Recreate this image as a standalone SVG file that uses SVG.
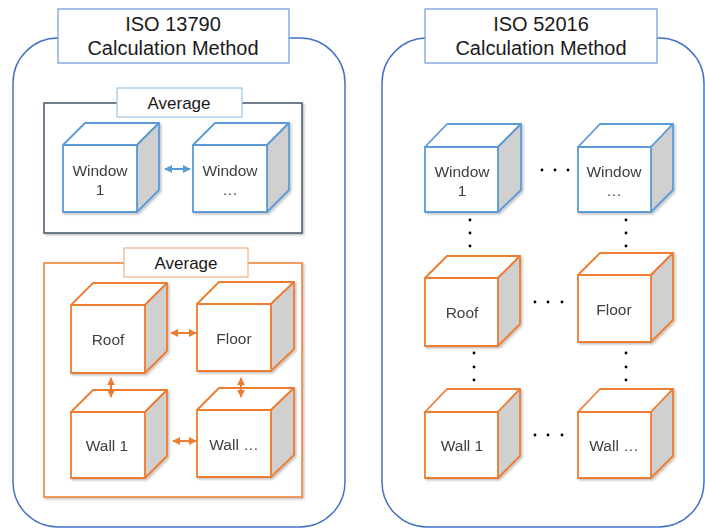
<svg xmlns="http://www.w3.org/2000/svg" width="705" height="529" viewBox="0 0 705 529">
<style>
text{font-family:"Liberation Sans",Arial,sans-serif;fill:#404040;text-anchor:middle}
.title{font-size:20px;fill:#1a1a1a}
.avg{font-size:17px;fill:#1a1a1a}
.lbl{font-size:15.5px}
.panel{fill:#fff;stroke:#4472C4;stroke-width:1.5}
.tbox{fill:#fff;stroke:#6F95D8;stroke-width:1.2}
.front{fill:#fff}
.top{fill:#fff}
.side{fill:#D0D0D0}
.blue polygon,.blue rect{stroke:#5B9BD5;stroke-width:1.8;stroke-linejoin:round}
.orange polygon,.orange rect{stroke:#ED7D31;stroke-width:1.8;stroke-linejoin:round}
.dot{fill:#000}
.ca{stroke:#5B9BD5;stroke-width:2;fill:none}
.co{stroke:#ED7D31;stroke-width:2;fill:none}
</style>
<defs>
<filter id="sh" x="-10%" y="-10%" width="120%" height="120%">
<feDropShadow dx="1.5" dy="1.5" stdDeviation="1.2" flood-color="#000" flood-opacity="0.25"/>
</filter>
<marker id="ab" viewBox="0 0 10 10" refX="9" refY="5" markerWidth="4" markerHeight="4" orient="auto-start-reverse"><path d="M0,0 L10,5 L0,10 z" fill="#5B9BD5"/></marker>
<marker id="ao" viewBox="0 0 10 10" refX="9" refY="5" markerWidth="4" markerHeight="4" orient="auto-start-reverse"><path d="M0,0 L10,5 L0,10 z" fill="#ED7D31"/></marker>
</defs>

<g id="panel-left">
<rect class="panel" x="13" y="38" width="332" height="489" rx="45" ry="45"/>
<rect class="tbox" x="58" y="9" width="231" height="54"/>
<text class="title" x="173" y="31">ISO 13790</text>
<text class="title" x="173" y="55">Calculation Method</text>
</g>
<g id="panel-right">
<rect class="panel" x="382" y="38" width="322" height="489" rx="45" ry="45"/>
<rect class="tbox" x="425" y="9" width="232" height="54"/>
<text class="title" x="541" y="31">ISO 52016</text>
<text class="title" x="541" y="55">Calculation Method</text>
</g>

<g id="avg-window">
<rect x="44" y="103" width="258" height="130" fill="#fff" stroke="#44546A" stroke-width="1.5" filter="url(#sh)"/>
<rect x="117" y="88" width="125" height="29" fill="#fff" stroke="#9DC3E6" stroke-width="1.2"/>
<text class="avg" x="179" y="109">Average</text>
</g>
<g id="avg-envelope">
<rect x="44" y="263" width="258" height="234" fill="#fff" stroke="#ED7D31" stroke-width="1.5" filter="url(#sh)"/>
<rect x="124" y="248" width="124" height="29" fill="#fff" stroke="#F4B183" stroke-width="1.2"/>
<text class="avg" x="186" y="269">Average</text>
</g>

<!-- Left cubes -->
<g id="l-window1" class="blue" filter="url(#sh)">
<polygon class="top" points="63,145 85,123 159,123 137,145"/>
<polygon class="side" points="137,145 159,123 159,190 137,212"/>
<rect class="front" x="63" y="145" width="74" height="67"/>
<text class="lbl" x="100" y="176">Window</text>
<text class="lbl" x="100" y="195">1</text>
</g>
<g id="l-window2" class="blue" filter="url(#sh)">
<polygon class="top" points="193,145 215,123 289,123 267,145"/>
<polygon class="side" points="267,145 289,123 289,190 267,212"/>
<rect class="front" x="193" y="145" width="74" height="67"/>
<text class="lbl" x="230" y="176">Window</text>
<text class="lbl" x="230" y="195">…</text>
</g>
<g id="l-roof" class="orange" filter="url(#sh)">
<polygon class="top" points="71,305 93,283 167,283 145,305"/>
<polygon class="side" points="145,305 167,283 167,351 145,373"/>
<rect class="front" x="71" y="305" width="74" height="68"/>
<text class="lbl" x="108" y="345">Roof</text>
</g>
<g id="l-floor" class="orange" filter="url(#sh)">
<polygon class="top" points="197,304 219,282 294,282 271,304"/>
<polygon class="side" points="271,304 294,282 294,349 271,371"/>
<rect class="front" x="197" y="304" width="74" height="67"/>
<text class="lbl" x="234" y="344">Floor</text>
</g>
<g id="l-wall1" class="orange" filter="url(#sh)">
<polygon class="top" points="71,412 93,390 167,390 145,412"/>
<polygon class="side" points="145,412 167,390 167,456 145,478"/>
<rect class="front" x="71" y="412" width="74" height="66"/>
<text class="lbl" x="107" y="451">Wall 1</text>
</g>
<g id="l-wall2" class="orange" filter="url(#sh)">
<polygon class="top" points="197,410 219,388 294,388 271,410"/>
<polygon class="side" points="271,410 294,388 294,455 271,477"/>
<rect class="front" x="197" y="410" width="74" height="67"/>
<text class="lbl" x="234" y="450">Wall …</text>
</g>

<!-- Right cubes -->
<g id="r-window1" class="blue" filter="url(#sh)">
<polygon class="top" points="425,147 447,124 521,124 498,147"/>
<polygon class="side" points="498,147 521,124 521,190 498,212"/>
<rect class="front" x="425" y="147" width="73" height="65"/>
<text class="lbl" x="462" y="177">Window</text>
<text class="lbl" x="462" y="196">1</text>
</g>
<g id="r-window2" class="blue" filter="url(#sh)">
<polygon class="top" points="578,147 600,124 673,124 651,147"/>
<polygon class="side" points="651,147 673,124 673,190 651,212"/>
<rect class="front" x="578" y="147" width="73" height="65"/>
<text class="lbl" x="614" y="177">Window</text>
<text class="lbl" x="614" y="196">…</text>
</g>
<g id="r-roof" class="orange" filter="url(#sh)">
<polygon class="top" points="425,278 447,256 520,256 498,278"/>
<polygon class="side" points="498,278 520,256 520,324 498,346"/>
<rect class="front" x="425" y="278" width="73" height="68"/>
<text class="lbl" x="462" y="318">Roof</text>
</g>
<g id="r-floor" class="orange" filter="url(#sh)">
<polygon class="top" points="578,275 600,253 673,253 651,275"/>
<polygon class="side" points="651,275 673,253 673,320 651,342"/>
<rect class="front" x="578" y="275" width="73" height="67"/>
<text class="lbl" x="614" y="315">Floor</text>
</g>
<g id="r-wall1" class="orange" filter="url(#sh)">
<polygon class="top" points="425,412 447,389 520,389 498,412"/>
<polygon class="side" points="498,412 520,389 520,456 498,478"/>
<rect class="front" x="425" y="412" width="73" height="66"/>
<text class="lbl" x="462" y="451">Wall 1</text>
</g>
<g id="r-wall2" class="orange" filter="url(#sh)">
<polygon class="top" points="578,412 600,389 673,389 651,412"/>
<polygon class="side" points="651,412 673,389 673,456 651,478"/>
<rect class="front" x="578" y="412" width="73" height="66"/>
<text class="lbl" x="614" y="451">Wall …</text>
</g>

<g id="connectors">
<line class="ca" x1="165" y1="169" x2="190" y2="169" marker-start="url(#ab)" marker-end="url(#ab)"/>
<line class="co" x1="171" y1="333" x2="196" y2="333" marker-start="url(#ao)" marker-end="url(#ao)"/>
<line class="co" x1="173" y1="441" x2="196" y2="441" marker-start="url(#ao)" marker-end="url(#ao)"/>
<line class="co" x1="111" y1="378" x2="111" y2="397" marker-start="url(#ao)" marker-end="url(#ao)"/>
<line class="co" x1="241" y1="378" x2="241" y2="397" marker-start="url(#ao)" marker-end="url(#ao)"/>
</g>

<g id="ellipses">
<circle class="dot" cx="542" cy="170" r="1.4"/><circle class="dot" cx="555" cy="170" r="1.4"/><circle class="dot" cx="568" cy="170" r="1.4"/>
<circle class="dot" cx="470" cy="220" r="1.4"/><circle class="dot" cx="470" cy="233" r="1.4"/><circle class="dot" cx="470" cy="246" r="1.4"/>
<circle class="dot" cx="626" cy="220" r="1.4"/><circle class="dot" cx="626" cy="233" r="1.4"/><circle class="dot" cx="626" cy="246" r="1.4"/>
<circle class="dot" cx="535" cy="302" r="1.4"/><circle class="dot" cx="548" cy="302" r="1.4"/><circle class="dot" cx="562" cy="302" r="1.4"/>
<circle class="dot" cx="474" cy="353" r="1.4"/><circle class="dot" cx="474" cy="367" r="1.4"/><circle class="dot" cx="474" cy="380" r="1.4"/>
<circle class="dot" cx="626" cy="353" r="1.4"/><circle class="dot" cx="626" cy="367" r="1.4"/><circle class="dot" cx="626" cy="380" r="1.4"/>
<circle class="dot" cx="535" cy="435" r="1.4"/><circle class="dot" cx="548" cy="435" r="1.4"/><circle class="dot" cx="562" cy="435" r="1.4"/>
</g>
</svg>
